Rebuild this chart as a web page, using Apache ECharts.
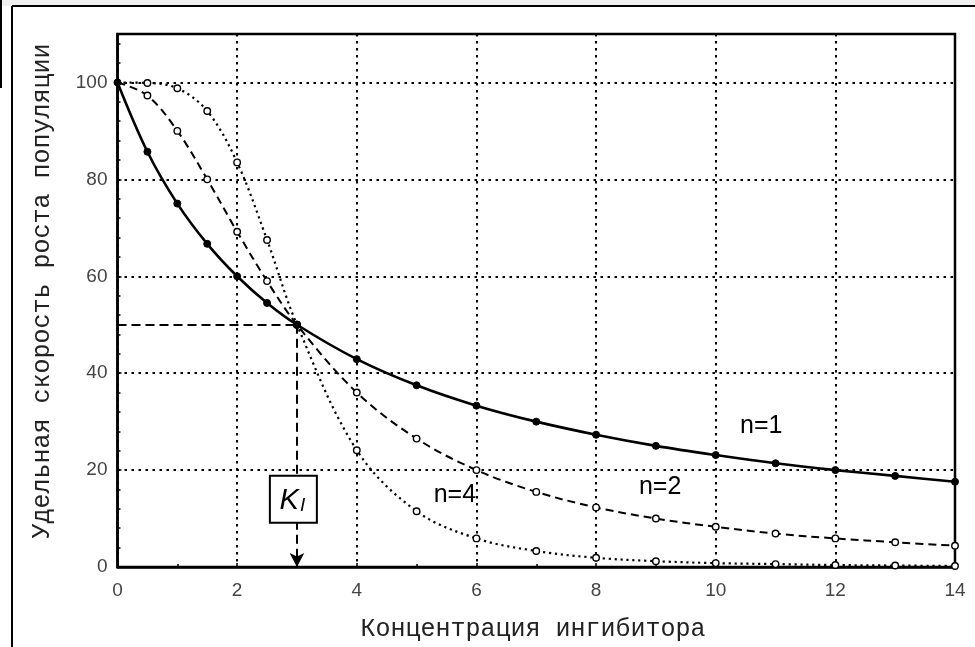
<!DOCTYPE html>
<html>
<head>
<meta charset="utf-8">
<script src="https://cdn.jsdelivr.net/npm/echarts@6/dist/echarts.min.js"></script>
<style>
html,body{margin:0;padding:0;background:#fff;}
#c{width:975px;height:647px;}
</style>
</head>
<body>
<div id="c"></div>
<script>
// Data
const xValues = [0, 0.5, 1, 1.5, 2, 2.5, 3, 4, 5, 6, 7, 8, 9, 10, 11, 12, 13, 14];
const n1Values = [100, 85.7, 75, 66.7, 60, 54.5, 50, 42.9, 37.5, 33.3, 30, 27.3, 25, 23.1, 21.4, 20, 18.8, 17.6];
const n2Values = [100, 97.3, 90, 80, 69.2, 59, 50, 36, 26.5, 20, 15.5, 12.3, 10, 8.3, 6.9, 5.9, 5.1, 4.4];
const n4Values = [100, 99.9, 98.8, 94.1, 83.5, 67.5, 50, 24.1, 11.5, 5.9, 3.3, 1.9, 1.2, 0.8, 0.6, 0.4, 0.3, 0.2];
const xTicks = [0, 2, 4, 6, 8, 10, 12, 14];
const yTicks = [0, 20, 40, 60, 80, 100];
const kI = 3;
const kIValue = 50;
const curveLabels = [
  { text: 'n=1', x: 10.76, y: 29.1 },
  { text: 'n=2', x: 9.07, y: 16.5 },
  { text: 'n=4', x: 5.64, y: 14.8 }
];
const xTitle = 'Концентрация ингибитора';
const yTitle = 'Удельная скорость роста популяции';

const chart = echarts.init(document.getElementById('c'), null, { renderer: 'canvas' });

function mkData(vals, markFirst) {
  return xValues.map((x, i) => {
    const item = { value: [x, vals[i]] };
    if (i === 0 && !markFirst) item.symbol = 'none';
    return item;
  });
}

const tickFont = { fontFamily: 'Liberation Sans', fontSize: 19, color: '#444' };

const option = {
  animation: false,
  backgroundColor: '#fff',
  grid: { left: 117.5, top: 34, right: 20, bottom: 80, show: true, borderColor: '#000', borderWidth: 2.5, backgroundColor: 'transparent' },
  xAxis: {
    type: 'value', min: 0, max: 14, interval: 2,
    axisLine: { show: true, onZero: false, lineStyle: { color: '#000', width: 2.5 } },
    axisTick: { show: true, inside: true, length: 4, lineStyle: { color: '#000', width: 1.5 } },
    minorTick: { show: true, splitNumber: 2, length: 3, lineStyle: { color: '#000', width: 1.5 } },
    axisLabel: Object.assign({ margin: 14, formatter: v => xTicks.includes(v) ? String(v) : '' }, tickFont),
    splitLine: { show: true, lineStyle: { color: '#000', width: 2, type: [2.5, 4.5] } }
  },
  yAxis: {
    type: 'value', min: 0, max: 110, interval: 20,
    axisLine: { show: true, onZero: false, lineStyle: { color: '#000', width: 2.5 } },
    axisTick: { show: true, inside: true, length: 4, lineStyle: { color: '#000', width: 1.5 } },
    minorTick: { show: true, splitNumber: 5, length: 3, lineStyle: { color: '#000', width: 1.5 } },
    axisLabel: Object.assign({ margin: 10, formatter: v => yTicks.includes(v) ? String(v) : '' }, tickFont),
    splitLine: { show: true, lineStyle: { color: '#000', width: 2, type: [2.5, 4.5] } }
  },
  series: [
    {
      name: 'n=4', type: 'line', smooth: 0.35, data: mkData(n4Values, false),
      symbol: 'circle', symbolSize: 6.5, showAllSymbol: true,
      lineStyle: { color: '#000', width: 2.2, type: [2.2, 3.8] },
      itemStyle: { color: '#fff', borderColor: '#000', borderWidth: 1.4 },
      z: 3
    },
    {
      name: 'n=2', type: 'line', smooth: 0.35, data: mkData(n2Values, false),
      symbol: 'circle', symbolSize: 6.5, showAllSymbol: true,
      lineStyle: { color: '#000', width: 2, type: [8, 5] },
      itemStyle: { color: '#fff', borderColor: '#000', borderWidth: 1.4 },
      z: 4,
      markLine: {
        silent: true, symbol: ['none', 'none'], symbolSize: [11, 14],
        label: { show: false },
        lineStyle: { color: '#000', width: 2, type: [9, 5] },
        data: [
          [{ coord: [0, kIValue] }, { coord: [kI, kIValue] }],
          [{ coord: [kI, kIValue], symbol: 'none' }, { coord: [kI, 0], symbol: 'arrow' }]
        ]
      }
    },
    {
      name: 'n=1', type: 'line', smooth: 0.35, data: mkData(n1Values, true),
      symbol: 'circle', symbolSize: 7, showAllSymbol: true,
      lineStyle: { color: '#000', width: 2.6, type: 'solid' },
      itemStyle: { color: '#000', borderColor: '#000', borderWidth: 1 },
      z: 5
    }
  ]
};
chart.setOption(option);

const gfx = [];
// outer frame of the picture
gfx.push({ type: 'rect', shape: { x: 0, y: 0, width: 975, height: 6 }, style: { fill: '#f0f0f0' }, silent: true, z: 0 });
gfx.push({ type: 'line', shape: { x1: 12, y1: 6, x2: 12, y2: 647 }, style: { stroke: '#000', lineWidth: 2 }, silent: true });
gfx.push({ type: 'line', shape: { x1: 12, y1: 6, x2: 975, y2: 6 }, style: { stroke: '#000', lineWidth: 2 }, silent: true });
gfx.push({ type: 'line', shape: { x1: 1, y1: 0, x2: 1, y2: 88 }, style: { stroke: '#000', lineWidth: 2 }, silent: true });
// axis titles
gfx.push({ type: 'text', x: 533, y: 629, style: { text: xTitle, font: '25px "Liberation Mono"', fill: '#222', align: 'center', verticalAlign: 'middle' }, silent: true });
gfx.push({ type: 'text', x: 42, y: 291, rotation: Math.PI / 2, style: { text: yTitle, font: '25px "Liberation Mono"', fill: '#222', align: 'center', verticalAlign: 'middle' }, silent: true });
// curve labels
curveLabels.forEach(l => {
  const p = chart.convertToPixel({ gridIndex: 0 }, [l.x, l.y]);
  gfx.push({ type: 'text', x: p[0], y: p[1], style: { text: l.text, font: '25px "Liberation Sans"', fill: '#000', align: 'center', verticalAlign: 'middle' }, silent: true, z: 10 });
});
// K_I box
const kp = chart.convertToPixel({ gridIndex: 0 }, [2.94, 14]);
gfx.push({ type: 'rect', shape: { x: kp[0] - 23.5, y: kp[1] - 23.5, width: 47, height: 47 }, style: { fill: '#fff', stroke: '#000', lineWidth: 2 }, z: 20, silent: true });
gfx.push({
  type: 'text', x: kp[0] - 1, y: kp[1], z: 21, silent: true,
  style: {
    text: '{k|K}{s|I}', align: 'center', verticalAlign: 'middle',
    rich: {
      k: { font: 'italic 29px "Liberation Sans"', fill: '#000', verticalAlign: 'bottom' },
      s: { font: 'italic 19px "Liberation Sans"', fill: '#000', padding: [14, 0, 0, 1] }
    }
  }
});
chart.setOption({ graphic: gfx });
</script>
</body>
</html>
